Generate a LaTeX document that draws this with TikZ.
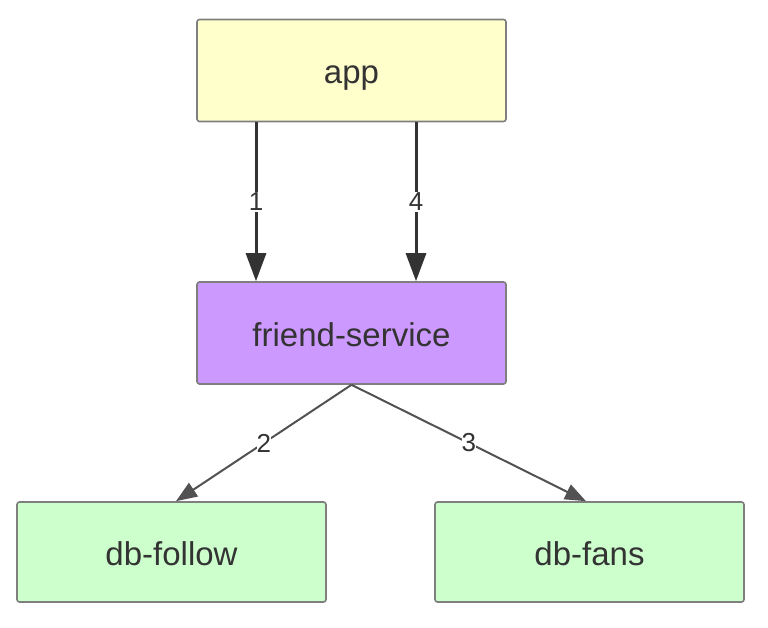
\documentclass[tikz,border=0pt]{standalone}
\usepackage{fontspec}
\setmainfont{Liberation Sans}
\usepackage{xcolor}
\usetikzlibrary{arrows.meta}

\definecolor{boxline}{HTML}{7F7F7F}
\definecolor{appfill}{HTML}{FFFFCC}
\definecolor{svcfill}{HTML}{CC99FF}
\definecolor{dbfill}{HTML}{CCFFCC}
\definecolor{ink}{HTML}{333333}

\begin{document}
\begin{tikzpicture}[x=1pt, y=-1pt,
  box/.style={draw=boxline, line width=1.6pt, rounded corners=2.5pt,
    minimum width=309pt, minimum height=102pt, inner sep=0pt,
    text height=27pt, text depth=0pt,
    text=ink, font=\fontsize{33}{38}\selectfont},
  callarrow/.style={draw=ink, line width=3pt, -{Triangle[length=28pt, width=20pt]}},
  dbarrow/.style={draw=ink!85, line width=2pt, -{Triangle[length=21pt, width=16pt]}},
  num/.style={fill=white, inner sep=1pt, text=ink, font=\fontsize{26}{30}\selectfont}]

  % ----------------------
  % Cornice (dimensioni del riferimento)
  % ----------------------
  \useasboundingbox (0,0) rectangle (768,628);

  % ----------------------
  % Blocchi
  % ----------------------
  \node[box, fill=appfill] (app) at (351.5,70.5) {app};
  \node[box, fill=svcfill] (friend) at (351.5,333) {friend-service};
  \node[box, fill=dbfill, minimum height=100pt] (follow) at (171.5,552) {db-follow};
  \node[box, fill=dbfill, minimum height=100pt] (fans) at (589.5,552) {db-fans};

  % ----------------------
  % Chiamate app -> friend-service
  % ----------------------
  \draw[callarrow] ([xshift=-95.5pt]app.south) -- node[num] {1} ([xshift=-95.5pt]friend.north);
  \draw[callarrow] ([xshift=64.5pt]app.south) -- node[num] {4} ([xshift=64.5pt]friend.north);

  % ----------------------
  % Scritture sui database
  % ----------------------
  \draw[dbarrow] (friend.south) -- node[num, inner sep=0pt] {2} ([xshift=4.5pt]follow.north);
  \draw[dbarrow] (friend.south) -- node[num, inner sep=0pt] {3} ([xshift=-3.5pt]fans.north);

\end{tikzpicture}
\end{document}
